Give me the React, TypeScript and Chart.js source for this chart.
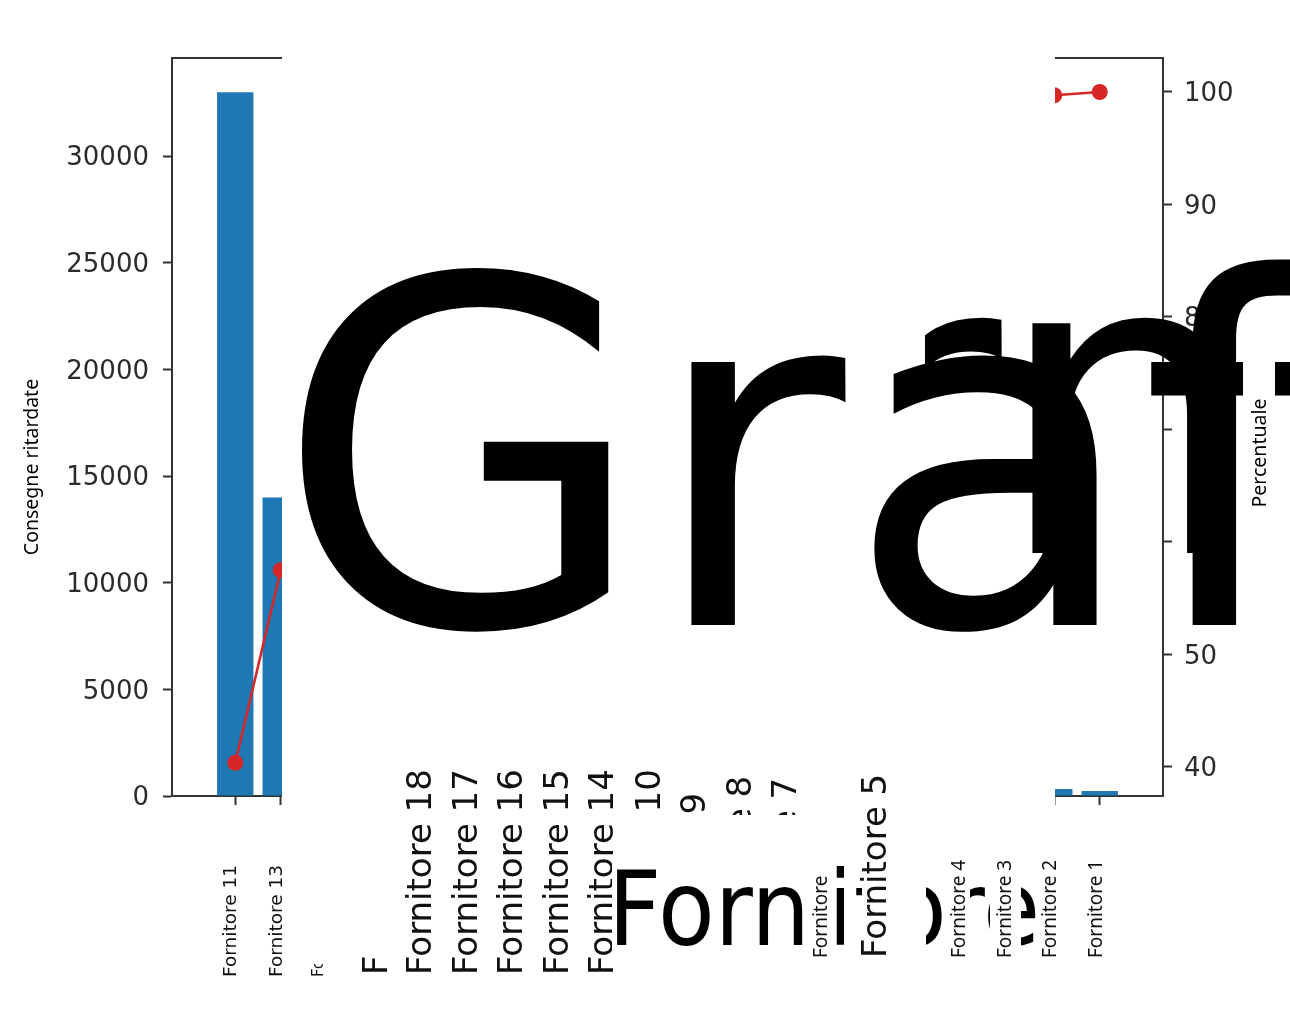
import React, { useEffect, useRef } from "react";
import { Chart, registerables } from "chart.js";

Chart.register(...registerables);

// ---------------- data ----------------
const suppliers = [
  "Fornitore 11", "Fornitore 13", "Fornitore 12", "Fornitore 20", "Fornitore 18",
  "Fornitore 17", "Fornitore 16", "Fornitore 15", "Fornitore 14", "Fornitore 10",
  "Fornitore 9", "Fornitore 8", "Fornitore 7", "Fornitore 6", "Fornitore 5",
  "Fornitore 19", "Fornitore 4", "Fornitore 3", "Fornitore 2", "Fornitore 1",
];
const lateDeliveries = [
  33000, 14000, 8400, 6300, 4600, 3500, 2600, 2000, 1500, 1150,
  880, 700, 560, 480, 420, 390, 360, 340, 330, 240,
];
const leftTickValues = [0, 5000, 10000, 15000, 20000, 25000, 30000];
const rightTickValues = [40, 50, 60, 70, 80, 90, 100];
const chartTitle = "Grafico di Pareto";
const xTitle = "Fornitore";
const yLeftTitle = "Consegne ritardate";
const yRightTitle = "Percentuale";

// ---------------- styles ----------------
const BAR_COLOR = "#1f77b4";
const LINE_COLOR = "#d62728";
const AXIS_COLOR = "#333333";
const TICK_TEXT = "#2b2b2b";
const DJ = '"DejaVu Sans"';
const NOTO = '"Noto Sans"';

type LabelStyle = {
  font?: string;
  dx?: number;
  y0?: number;
  clip?: [number, number];
  hidden?: boolean;
  last?: boolean;
};
const SMALL_L: LabelStyle = { font: `18.5px ${DJ}`, dx: -4, y0: 977 };
const BIG: LabelStyle = { font: `34px ${DJ}`, dx: 5, y0: 975 };
const SMALL_R: LabelStyle = { font: `19px ${NOTO}`, dx: -3.5, y0: 958 };
const labelStyles: LabelStyle[] = [
  SMALL_L,
  SMALL_L,
  { font: `15px ${DJ}`, dx: -7, y0: 977, clip: [964, 1026] },
  { font: `34px ${DJ}`, dx: 6, y0: 975, clip: [955, 1026] },
  BIG, BIG, BIG, BIG, BIG,
  { font: `34px ${DJ}`, dx: 6, y0: 975, clip: [762, 815] },
  { font: `34px ${DJ}`, dx: 6, y0: 977, clip: [762, 815] },
  { font: `34px ${DJ}`, dx: 6, y0: 960, clip: [762, 815] },
  { font: `34px ${DJ}`, dx: 6, y0: 962, clip: [762, 815] },
  { font: `19px ${NOTO}`, dx: -5, y0: 958, clip: [872, 1026], last: true },
  { font: `34px ${DJ}`, dx: 5, y0: 958 },
  { hidden: true },
  SMALL_R, SMALL_R, SMALL_R, SMALL_R,
];

const total = lateDeliveries.reduce((a, b) => a + b, 0);
const cumulativePct: number[] = [];
lateDeliveries.reduce((run, v) => {
  const next = run + v;
  cumulativePct.push((next / total) * 100);
  return next;
}, 0);

function drawRotated(
  ctx: CanvasRenderingContext2D,
  text: string,
  cx: number,
  y: number,
  font: string,
  color: string,
  align: CanvasTextAlign
) {
  ctx.save();
  ctx.translate(cx, y);
  ctx.rotate(-Math.PI / 2);
  ctx.font = font;
  ctx.fillStyle = color;
  ctx.textAlign = align;
  ctx.textBaseline = "middle";
  ctx.fillText(text, 0, 0);
  ctx.restore();
}

function drawLabel(ctx: CanvasRenderingContext2D, chart: any, i: number) {
  const st = labelStyles[i];
  if (!st || st.hidden) return;
  const px = chart.scales.x.getPixelForValue(i) + (st.dx || 0);
  ctx.save();
  if (st.clip) {
    ctx.beginPath();
    ctx.rect(px - 40, st.clip[0], 80, st.clip[1] - st.clip[0]);
    ctx.clip();
  }
  drawRotated(ctx, suppliers[i], px, st.y0 || 975, st.font || `18px ${DJ}`, "#111", "left");
  ctx.restore();
}

function drawScaledText(ctx: CanvasRenderingContext2D, text: string, x: number, y: number, sx: number) {
  ctx.save();
  ctx.translate(x, y);
  ctx.scale(sx, 1);
  ctx.fillText(text, 0, 0);
  ctx.restore();
}

const overlayPlugin = {
  id: "overlay",
  afterDraw(chart: any) {
    const ctx: CanvasRenderingContext2D = chart.ctx;
    const area = chart.chartArea;
    ctx.save();
    // top spine
    ctx.strokeStyle = AXIS_COLOR;
    ctx.lineWidth = 2;
    ctx.beginPath();
    ctx.moveTo(area.left, area.top);
    ctx.lineTo(area.right, area.top);
    ctx.stroke();

    // blank tiles
    ctx.fillStyle = "#fff";
    ctx.fillRect(282, 0, 773, 810);
    ctx.fillRect(1177, 400, 60, 240);

    // giant title fragments
    ctx.fillStyle = "#000";
    ctx.textAlign = "left";
    ctx.textBaseline = "alphabetic";
    ctx.font = `481px ${DJ}`;
    ctx.fillText(chartTitle.slice(0, 4), 275, 625);

    ctx.save();
    ctx.beginPath();
    ctx.rect(925, 200, 365, 440);
    ctx.clip();
    ctx.font = `420px ${DJ}`;
    ctx.fillText(xTitle.slice(2, 4), 829, 553);
    ctx.restore();

    ctx.fillStyle = "#fff";
    ctx.fillRect(1243, 330, 32, 310);

    // axis titles
    drawRotated(ctx, yLeftTitle, 32, 467, `19.5px ${NOTO}`, "#000", "center");
    drawRotated(ctx, yRightTitle, 1260, 453, `19.5px ${NOTO}`, "#000", "center");

    // x tick labels
    for (let i = 0; i < suppliers.length; i++) {
      if (!labelStyles[i]?.last) drawLabel(ctx, chart, i);
    }

    // giant x title fragment
    ctx.fillStyle = "#fff";
    ctx.fillRect(612, 858, 236, 94);
    ctx.save();
    ctx.beginPath();
    const strips: [number, number][] = [
      [612, 813], [835, 844], [852, 862], [926, 946], [970, 990], [1021, 1045],
    ];
    strips.forEach(([a, b]) => ctx.rect(a, 855, b - a, 100));
    ctx.clip();
    ctx.font = `103px ${DJ}`;
    ctx.fillStyle = "#000";
    ctx.textAlign = "left";
    ctx.textBaseline = "alphabetic";
    drawScaledText(ctx, xTitle.slice(0, 4), 608, 945, 0.9);
    drawScaledText(ctx, xTitle.slice(4), 828, 945, 0.9);
    ctx.restore();

    for (let i = 0; i < suppliers.length; i++) {
      if (labelStyles[i]?.last) drawLabel(ctx, chart, i);
    }
    ctx.restore();
  },
};

export default function App() {
  const ref = useRef<HTMLCanvasElement>(null);
  useEffect(() => {
    const canvas = ref.current;
    if (!canvas) return;
    const tickGrid = {
      drawOnChartArea: false,
      drawTicks: true,
      tickLength: 9,
      tickColor: AXIS_COLOR,
      tickWidth: 2,
      offset: false,
    };
    const border = { display: true, color: AXIS_COLOR, width: 2 };
    const chart = new Chart(canvas, {
      type: "bar",
      data: {
        datasets: [
          {
            type: "line",
            label: "Percentuale cumulativa",
            data: cumulativePct.map((v, i) => ({ x: i, y: v })),
            yAxisID: "y2",
            borderColor: LINE_COLOR,
            backgroundColor: LINE_COLOR,
            borderWidth: 2.5,
            pointRadius: 8,
            pointHoverRadius: 8,
            pointBorderWidth: 0,
            order: 0,
          } as any,
          {
            type: "bar",
            label: yLeftTitle,
            data: lateDeliveries.map((v, i) => ({ x: i, y: v })),
            yAxisID: "y",
            backgroundColor: BAR_COLOR,
            borderWidth: 0,
            barPercentage: 0.8,
            categoryPercentage: 1,
            order: 1,
          } as any,
        ],
      },
      options: {
        responsive: false,
        animation: false,
        devicePixelRatio: 1,
        layout: { padding: { top: 58, left: 0, right: 0, bottom: 0 } },
        plugins: {
          legend: { display: false },
          tooltip: { enabled: false },
          title: { display: false },
        },
        scales: {
          x: {
            type: "linear",
            min: -1.39,
            max: 20.39,
            offset: false,
            afterFit: (s: any) => { s.height = 230; },
            afterBuildTicks: (s: any) => {
              s.ticks = suppliers.map((_, i) => ({ value: i }));
            },
            ticks: { display: false },
            grid: tickGrid,
            border,
          },
          y: {
            position: "left",
            min: 0,
            max: 34600,
            afterFit: (s: any) => { s.width = 172; },
            afterBuildTicks: (s: any) => {
              s.ticks = leftTickValues.map((v) => ({ value: v }));
            },
            ticks: {
              font: { family: "DejaVu Sans", size: 26 },
              color: TICK_TEXT,
              padding: 14,
              labelOffset: 2.5,
              callback: (v: any) => String(v),
            },
            grid: tickGrid,
            border,
          },
          y2: {
            position: "right",
            min: 37.42,
            max: 103.02,
            afterFit: (s: any) => { s.width = 127; },
            afterBuildTicks: (s: any) => {
              s.ticks = rightTickValues.map((v) => ({ value: v }));
            },
            ticks: {
              font: { family: "DejaVu Sans", size: 26 },
              color: TICK_TEXT,
              padding: 12,
              labelOffset: 2.5,
              callback: (v: any) => String(v),
            },
            grid: tickGrid,
            border,
          },
        },
      } as any,
      plugins: [overlayPlugin],
    });
    return () => chart.destroy();
  }, []);
  return (
    <div style={{ position: "absolute", left: 0, top: 0, width: 1290, height: 1026, background: "#fff" }}>
      <canvas ref={ref} width={1290} height={1026} style={{ display: "block", width: 1290, height: 1026 }} />
    </div>
  );
}
